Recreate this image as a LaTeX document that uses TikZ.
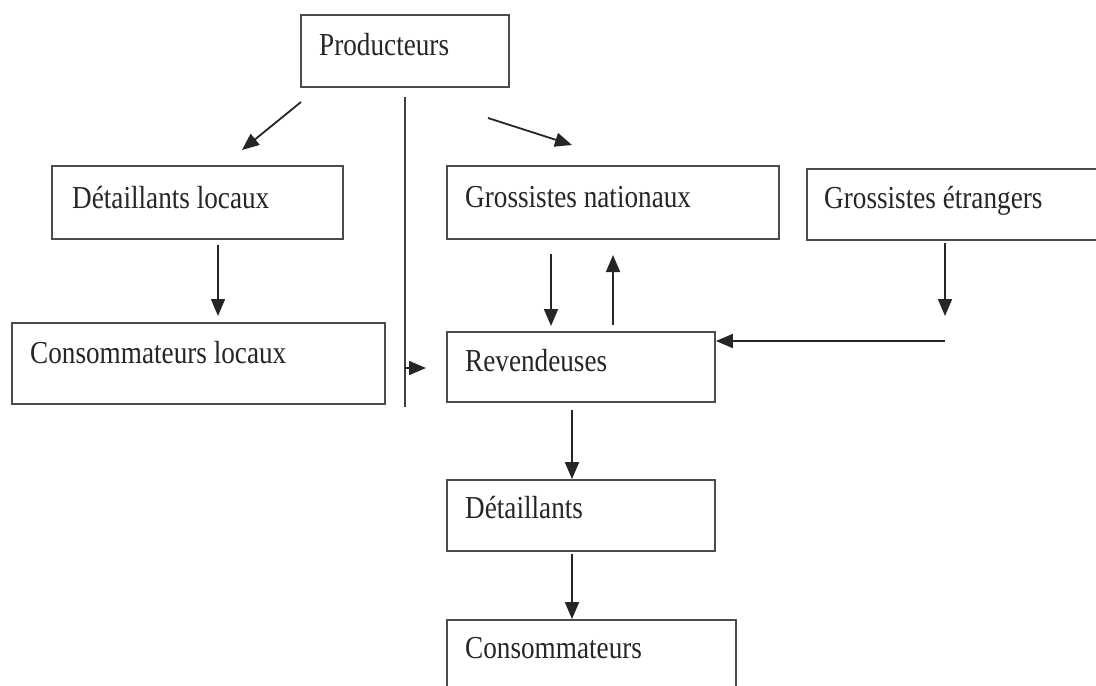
\documentclass[tikz,border=0pt]{standalone}
\usepackage{fontspec}
\setmainfont{Liberation Serif}[FakeStretch=0.85]
\usetikzlibrary{arrows.meta}
\begin{document}
\begin{tikzpicture}[x=1pt,y=-1pt,
  box/.style={draw=black!70, line width=1.8pt, inner sep=0pt, rectangle},
  lbl/.style={anchor=base west, inner sep=0pt, font=\fontsize{32}{38}\selectfont, text=black!85},
  arr/.style={draw=black!85, line width=1.8pt, -{Triangle[length=17pt,width=14pt]}},
  ln/.style={draw=black!75, line width=1.8pt}]
\useasboundingbox (0,0) rectangle (1096,686);
% boxes
\node[box, minimum width=208pt, minimum height=72pt] (prod) at (405,51) {};
\node[box, minimum width=291pt, minimum height=73pt] (detloc) at (197.5,202.5) {};
\node[box, minimum width=332pt, minimum height=73pt] (gnat) at (613,202.5) {};
\node[box, minimum width=313pt, minimum height=71pt] (getr) at (963.5,204.5) {};
\node[box, minimum width=373pt, minimum height=81pt] (consloc) at (198.5,363.5) {};
\node[box, minimum width=268pt, minimum height=70pt] (rev) at (581,367) {};
\node[box, minimum width=268pt, minimum height=71pt] (det) at (581,515.5) {};
\node[box, minimum width=289pt, minimum height=100pt] (cons) at (591.5,670) {};
% texts
\node[lbl] (tprod) at (319,55) {Producteurs};
\node[lbl] (tdetloc) at (72,208) {Détaillants locaux};
\node[lbl] (tgnat) at (465,207) {Grossistes nationaux};
\node[lbl] (tgetr) at (824,208) {Grossistes étrangers};
\node[lbl] (tconsloc) at (30,363) {Consommateurs locaux};
\node[lbl] (trev) at (465,371) {Revendeuses};
\node[lbl] (tdet) at (465,518) {Détaillants};
\node[lbl] (tcons) at (465,658) {Consommateurs};
% free-end coordinates
\coordinate (p1s) at (301,102);
\coordinate (p1e) at (242,150);
\coordinate (p2s) at (488,118);
\coordinate (p2e) at (572,145);
\coordinate (vs) at (405,97);
\coordinate (ve) at (405,407);
\coordinate (hs) at (405,368);
\coordinate (he) at (426,368);
\coordinate (d1s) at (218,245);
\coordinate (d1e) at (218,316);
\coordinate (g1s) at (551,254);
\coordinate (g1e) at (551,326);
\coordinate (g2s) at (613,325);
\coordinate (g2e) at (613,255);
\coordinate (e1s) at (945,243);
\coordinate (e1e) at (945,316);
\coordinate (e2s) at (945,341);
\coordinate (r1s) at (572,410);
\coordinate (r2s) at (572,554);
% connectors
\draw[arr] (p1s) -- (p1e);
\draw[arr] (p2s) -- (p2e);
\draw[ln] (vs) -- (ve);
\draw[arr] (hs) -- (he);
\draw[arr] (d1s) -- (d1e);
\draw[arr] (g1s) -- (g1e);
\draw[arr] (g2s) -- (g2e);
\draw[arr] (e1s) -- (e1e);
\draw[arr] (e2s) -- (e2s -| rev.east);
\draw[arr] (r1s) -- (r1s |- det.north);
\draw[arr] (r2s) -- (r2s |- cons.north);
\end{tikzpicture}
\end{document}
